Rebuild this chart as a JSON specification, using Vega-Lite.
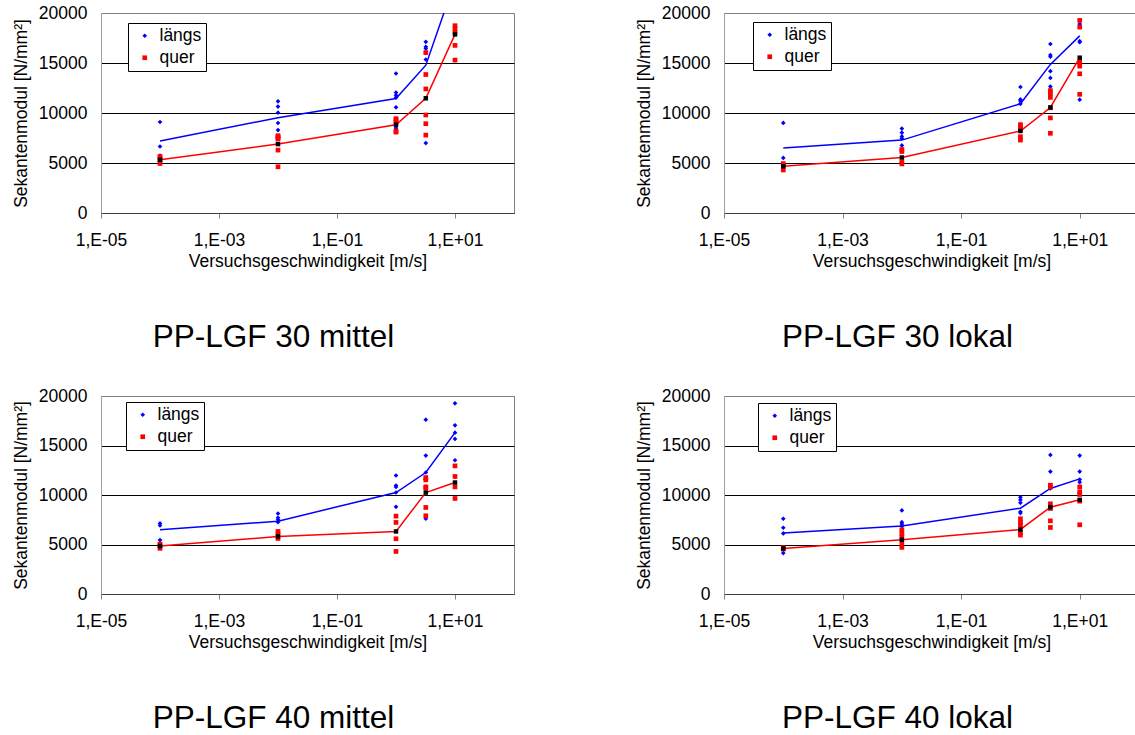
{
  "$schema": "https://vega.github.io/schema/vega-lite/v6.json",
  "autosize": {"type": "pad"},
  "padding": {"left": 11, "top": 3, "right": 0, "bottom": 0},
  "background": "white",
  "datasets": {
    "d": [
      {"p":1,"s":"längs","t":"pt","v":0.0001,"E":9100},
      {"p":1,"s":"längs","t":"pt","v":0.0001,"E":6650},
      {"p":1,"s":"längs","t":"pt","v":0.0001,"E":5750},
      {"p":1,"s":"längs","t":"pt","v":0.01,"E":11170},
      {"p":1,"s":"längs","t":"pt","v":0.01,"E":10640},
      {"p":1,"s":"längs","t":"pt","v":0.01,"E":10030},
      {"p":1,"s":"längs","t":"pt","v":0.01,"E":9000},
      {"p":1,"s":"längs","t":"pt","v":0.01,"E":8290},
      {"p":1,"s":"längs","t":"pt","v":0.01,"E":7700},
      {"p":1,"s":"längs","t":"pt","v":1,"E":13950},
      {"p":1,"s":"längs","t":"pt","v":1,"E":12040},
      {"p":1,"s":"längs","t":"pt","v":1,"E":11770},
      {"p":1,"s":"längs","t":"pt","v":1,"E":11540},
      {"p":1,"s":"längs","t":"pt","v":1,"E":10570},
      {"p":1,"s":"längs","t":"pt","v":1,"E":8500},
      {"p":1,"s":"längs","t":"pt","v":3.2,"E":17120},
      {"p":1,"s":"längs","t":"pt","v":3.2,"E":16620},
      {"p":1,"s":"längs","t":"pt","v":3.2,"E":16450},
      {"p":1,"s":"längs","t":"pt","v":3.2,"E":16000},
      {"p":1,"s":"längs","t":"pt","v":3.2,"E":15350},
      {"p":1,"s":"längs","t":"pt","v":3.2,"E":6990},
      {"p":1,"s":"längs","t":"mean","v":0.0001,"E":7190},
      {"p":1,"s":"längs","t":"mean","v":0.01,"E":9530},
      {"p":1,"s":"längs","t":"mean","v":1,"E":11440},
      {"p":1,"s":"längs","t":"mean","v":3.2,"E":14780},
      {"p":1,"s":"längs","t":"mean","v":10,"E":23200},
      {"p":1,"s":"quer","t":"pt","v":0.0001,"E":5650},
      {"p":1,"s":"quer","t":"pt","v":0.0001,"E":5500},
      {"p":1,"s":"quer","t":"pt","v":0.0001,"E":5250},
      {"p":1,"s":"quer","t":"pt","v":0.0001,"E":4950},
      {"p":1,"s":"quer","t":"pt","v":0.01,"E":7730},
      {"p":1,"s":"quer","t":"pt","v":0.01,"E":7620},
      {"p":1,"s":"quer","t":"pt","v":0.01,"E":7520},
      {"p":1,"s":"quer","t":"pt","v":0.01,"E":7400},
      {"p":1,"s":"quer","t":"pt","v":0.01,"E":6290},
      {"p":1,"s":"quer","t":"pt","v":0.01,"E":4620},
      {"p":1,"s":"quer","t":"pt","v":1,"E":9430},
      {"p":1,"s":"quer","t":"pt","v":1,"E":9300},
      {"p":1,"s":"quer","t":"pt","v":1,"E":9060},
      {"p":1,"s":"quer","t":"pt","v":1,"E":8190},
      {"p":1,"s":"quer","t":"pt","v":1,"E":8090},
      {"p":1,"s":"quer","t":"pt","v":3.2,"E":16050},
      {"p":1,"s":"quer","t":"pt","v":3.2,"E":13850},
      {"p":1,"s":"quer","t":"pt","v":3.2,"E":12410},
      {"p":1,"s":"quer","t":"pt","v":3.2,"E":9800},
      {"p":1,"s":"quer","t":"pt","v":3.2,"E":8930},
      {"p":1,"s":"quer","t":"pt","v":3.2,"E":7790},
      {"p":1,"s":"quer","t":"pt","v":10,"E":18730},
      {"p":1,"s":"quer","t":"pt","v":10,"E":18400},
      {"p":1,"s":"quer","t":"pt","v":10,"E":18060},
      {"p":1,"s":"quer","t":"pt","v":10,"E":16760},
      {"p":1,"s":"quer","t":"pt","v":10,"E":15290},
      {"p":1,"s":"quer","t":"mean","v":0.0001,"E":5320},
      {"p":1,"s":"quer","t":"mean","v":0.01,"E":6890},
      {"p":1,"s":"quer","t":"mean","v":1,"E":8830},
      {"p":1,"s":"quer","t":"mean","v":3.2,"E":11470},
      {"p":1,"s":"quer","t":"mean","v":10,"E":17860},

      {"p":2,"s":"längs","t":"pt","v":0.0001,"E":9010},
      {"p":2,"s":"längs","t":"pt","v":0.0001,"E":5510},
      {"p":2,"s":"längs","t":"pt","v":0.0001,"E":4900},
      {"p":2,"s":"längs","t":"pt","v":0.01,"E":8440},
      {"p":2,"s":"längs","t":"pt","v":0.01,"E":8030},
      {"p":2,"s":"längs","t":"pt","v":0.01,"E":7660},
      {"p":2,"s":"längs","t":"pt","v":0.01,"E":7460},
      {"p":2,"s":"längs","t":"pt","v":0.01,"E":6760},
      {"p":2,"s":"längs","t":"pt","v":1,"E":12600},
      {"p":2,"s":"längs","t":"pt","v":1,"E":11360},
      {"p":2,"s":"längs","t":"pt","v":1,"E":11190},
      {"p":2,"s":"längs","t":"pt","v":1,"E":10920},
      {"p":2,"s":"längs","t":"pt","v":3.2,"E":16900},
      {"p":2,"s":"längs","t":"pt","v":3.2,"E":15800},
      {"p":2,"s":"längs","t":"pt","v":3.2,"E":15630},
      {"p":2,"s":"längs","t":"pt","v":3.2,"E":14180},
      {"p":2,"s":"längs","t":"pt","v":3.2,"E":13510},
      {"p":2,"s":"längs","t":"pt","v":3.2,"E":12640},
      {"p":2,"s":"längs","t":"pt","v":10,"E":18890},
      {"p":2,"s":"längs","t":"pt","v":10,"E":17180},
      {"p":2,"s":"längs","t":"pt","v":10,"E":17080},
      {"p":2,"s":"längs","t":"pt","v":10,"E":11330},
      {"p":2,"s":"längs","t":"mean","v":0.0001,"E":6490},
      {"p":2,"s":"längs","t":"mean","v":0.01,"E":7290},
      {"p":2,"s":"längs","t":"mean","v":1,"E":10920},
      {"p":2,"s":"längs","t":"mean","v":3.2,"E":14860},
      {"p":2,"s":"längs","t":"mean","v":10,"E":17710},
      {"p":2,"s":"quer","t":"pt","v":0.0001,"E":4940},
      {"p":2,"s":"quer","t":"pt","v":0.0001,"E":4750},
      {"p":2,"s":"quer","t":"pt","v":0.0001,"E":4300},
      {"p":2,"s":"quer","t":"pt","v":0.01,"E":6350},
      {"p":2,"s":"quer","t":"pt","v":0.01,"E":6150},
      {"p":2,"s":"quer","t":"pt","v":0.01,"E":5110},
      {"p":2,"s":"quer","t":"pt","v":0.01,"E":4910},
      {"p":2,"s":"quer","t":"pt","v":1,"E":8840},
      {"p":2,"s":"quer","t":"pt","v":1,"E":8640},
      {"p":2,"s":"quer","t":"pt","v":1,"E":8370},
      {"p":2,"s":"quer","t":"pt","v":1,"E":7630},
      {"p":2,"s":"quer","t":"pt","v":1,"E":7290},
      {"p":2,"s":"quer","t":"pt","v":3.2,"E":12240},
      {"p":2,"s":"quer","t":"pt","v":3.2,"E":11930},
      {"p":2,"s":"quer","t":"pt","v":3.2,"E":11560},
      {"p":2,"s":"quer","t":"pt","v":3.2,"E":10520},
      {"p":2,"s":"quer","t":"pt","v":3.2,"E":9510},
      {"p":2,"s":"quer","t":"pt","v":3.2,"E":7970},
      {"p":2,"s":"quer","t":"pt","v":10,"E":19260},
      {"p":2,"s":"quer","t":"pt","v":10,"E":18590},
      {"p":2,"s":"quer","t":"pt","v":10,"E":15090},
      {"p":2,"s":"quer","t":"pt","v":10,"E":14690},
      {"p":2,"s":"quer","t":"pt","v":10,"E":13920},
      {"p":2,"s":"quer","t":"pt","v":10,"E":11870},
      {"p":2,"s":"quer","t":"mean","v":0.0001,"E":4670},
      {"p":2,"s":"quer","t":"mean","v":0.01,"E":5550},
      {"p":2,"s":"quer","t":"mean","v":1,"E":8200},
      {"p":2,"s":"quer","t":"mean","v":3.2,"E":10550},
      {"p":2,"s":"quer","t":"mean","v":10,"E":15530},

      {"p":3,"s":"längs","t":"pt","v":0.0001,"E":7130},
      {"p":3,"s":"längs","t":"pt","v":0.0001,"E":6920},
      {"p":3,"s":"längs","t":"pt","v":0.0001,"E":5450},
      {"p":3,"s":"längs","t":"pt","v":0.01,"E":8130},
      {"p":3,"s":"längs","t":"pt","v":0.01,"E":7700},
      {"p":3,"s":"längs","t":"pt","v":0.01,"E":7500},
      {"p":3,"s":"längs","t":"pt","v":0.01,"E":7260},
      {"p":3,"s":"längs","t":"pt","v":1,"E":11970},
      {"p":3,"s":"längs","t":"pt","v":1,"E":10960},
      {"p":3,"s":"längs","t":"pt","v":1,"E":10820},
      {"p":3,"s":"längs","t":"pt","v":1,"E":10250},
      {"p":3,"s":"längs","t":"pt","v":1,"E":8810},
      {"p":3,"s":"längs","t":"pt","v":3.2,"E":17610},
      {"p":3,"s":"längs","t":"pt","v":3.2,"E":13980},
      {"p":3,"s":"längs","t":"pt","v":3.2,"E":12270},
      {"p":3,"s":"längs","t":"pt","v":3.2,"E":11530},
      {"p":3,"s":"längs","t":"pt","v":3.2,"E":7600},
      {"p":3,"s":"längs","t":"pt","v":10,"E":19260},
      {"p":3,"s":"längs","t":"pt","v":10,"E":17040},
      {"p":3,"s":"längs","t":"pt","v":10,"E":16300},
      {"p":3,"s":"längs","t":"pt","v":10,"E":15660},
      {"p":3,"s":"längs","t":"pt","v":10,"E":13510},
      {"p":3,"s":"längs","t":"mean","v":0.0001,"E":6490},
      {"p":3,"s":"längs","t":"mean","v":0.01,"E":7360},
      {"p":3,"s":"längs","t":"mean","v":1,"E":10250},
      {"p":3,"s":"längs","t":"mean","v":3.2,"E":12270},
      {"p":3,"s":"längs","t":"mean","v":10,"E":16300},
      {"p":3,"s":"quer","t":"pt","v":0.0001,"E":5040},
      {"p":3,"s":"quer","t":"pt","v":0.0001,"E":4880},
      {"p":3,"s":"quer","t":"pt","v":0.0001,"E":4610},
      {"p":3,"s":"quer","t":"pt","v":0.01,"E":6320},
      {"p":3,"s":"quer","t":"pt","v":0.01,"E":6080},
      {"p":3,"s":"quer","t":"pt","v":0.01,"E":5610},
      {"p":3,"s":"quer","t":"pt","v":1,"E":7870},
      {"p":3,"s":"quer","t":"pt","v":1,"E":7230},
      {"p":3,"s":"quer","t":"pt","v":1,"E":5580},
      {"p":3,"s":"quer","t":"pt","v":1,"E":4300},
      {"p":3,"s":"quer","t":"pt","v":3.2,"E":11760},
      {"p":3,"s":"quer","t":"pt","v":3.2,"E":11530},
      {"p":3,"s":"quer","t":"pt","v":3.2,"E":10820},
      {"p":3,"s":"quer","t":"pt","v":3.2,"E":10720},
      {"p":3,"s":"quer","t":"pt","v":3.2,"E":8740},
      {"p":3,"s":"quer","t":"pt","v":3.2,"E":7900},
      {"p":3,"s":"quer","t":"pt","v":10,"E":12940},
      {"p":3,"s":"quer","t":"pt","v":10,"E":11870},
      {"p":3,"s":"quer","t":"pt","v":10,"E":10820},
      {"p":3,"s":"quer","t":"pt","v":10,"E":9650},
      {"p":3,"s":"quer","t":"mean","v":0.0001,"E":4840},
      {"p":3,"s":"quer","t":"mean","v":0.01,"E":5810},
      {"p":3,"s":"quer","t":"mean","v":1,"E":6320},
      {"p":3,"s":"quer","t":"mean","v":3.2,"E":10250},
      {"p":3,"s":"quer","t":"mean","v":10,"E":11260},

      {"p":4,"s":"längs","t":"pt","v":0.0001,"E":7600},
      {"p":4,"s":"längs","t":"pt","v":0.0001,"E":6690},
      {"p":4,"s":"längs","t":"pt","v":0.0001,"E":6120},
      {"p":4,"s":"längs","t":"pt","v":0.0001,"E":4130},
      {"p":4,"s":"längs","t":"pt","v":0.01,"E":8440},
      {"p":4,"s":"längs","t":"pt","v":0.01,"E":7260},
      {"p":4,"s":"längs","t":"pt","v":0.01,"E":7060},
      {"p":4,"s":"längs","t":"pt","v":0.01,"E":6860},
      {"p":4,"s":"längs","t":"pt","v":1,"E":9780},
      {"p":4,"s":"längs","t":"pt","v":1,"E":9510},
      {"p":4,"s":"längs","t":"pt","v":1,"E":9210},
      {"p":4,"s":"längs","t":"pt","v":1,"E":8300},
      {"p":4,"s":"längs","t":"pt","v":1,"E":8170},
      {"p":4,"s":"längs","t":"pt","v":3.2,"E":14050},
      {"p":4,"s":"längs","t":"pt","v":3.2,"E":12370},
      {"p":4,"s":"längs","t":"pt","v":3.2,"E":10660},
      {"p":4,"s":"längs","t":"pt","v":10,"E":13980},
      {"p":4,"s":"längs","t":"pt","v":10,"E":12370},
      {"p":4,"s":"längs","t":"pt","v":10,"E":11560},
      {"p":4,"s":"längs","t":"pt","v":10,"E":11290},
      {"p":4,"s":"längs","t":"mean","v":0.0001,"E":6150},
      {"p":4,"s":"längs","t":"mean","v":0.01,"E":6860},
      {"p":4,"s":"längs","t":"mean","v":1,"E":8670},
      {"p":4,"s":"längs","t":"mean","v":3.2,"E":10660},
      {"p":4,"s":"längs","t":"mean","v":10,"E":11630},
      {"p":4,"s":"quer","t":"pt","v":0.0001,"E":4700},
      {"p":4,"s":"quer","t":"pt","v":0.0001,"E":4540},
      {"p":4,"s":"quer","t":"pt","v":0.01,"E":6490},
      {"p":4,"s":"quer","t":"pt","v":0.01,"E":6120},
      {"p":4,"s":"quer","t":"pt","v":0.01,"E":5780},
      {"p":4,"s":"quer","t":"pt","v":0.01,"E":5040},
      {"p":4,"s":"quer","t":"pt","v":0.01,"E":4710},
      {"p":4,"s":"quer","t":"pt","v":1,"E":7600},
      {"p":4,"s":"quer","t":"pt","v":1,"E":7230},
      {"p":4,"s":"quer","t":"pt","v":1,"E":6960},
      {"p":4,"s":"quer","t":"pt","v":1,"E":6220},
      {"p":4,"s":"quer","t":"pt","v":1,"E":5950},
      {"p":4,"s":"quer","t":"pt","v":3.2,"E":10990},
      {"p":4,"s":"quer","t":"pt","v":3.2,"E":10820},
      {"p":4,"s":"quer","t":"pt","v":3.2,"E":9110},
      {"p":4,"s":"quer","t":"pt","v":3.2,"E":8640},
      {"p":4,"s":"quer","t":"pt","v":3.2,"E":7390},
      {"p":4,"s":"quer","t":"pt","v":3.2,"E":6720},
      {"p":4,"s":"quer","t":"pt","v":10,"E":10820},
      {"p":4,"s":"quer","t":"pt","v":10,"E":10320},
      {"p":4,"s":"quer","t":"pt","v":10,"E":10050},
      {"p":4,"s":"quer","t":"pt","v":10,"E":9380},
      {"p":4,"s":"quer","t":"pt","v":10,"E":6990},
      {"p":4,"s":"quer","t":"mean","v":0.0001,"E":4600},
      {"p":4,"s":"quer","t":"mean","v":0.01,"E":5480},
      {"p":4,"s":"quer","t":"mean","v":1,"E":6520},
      {"p":4,"s":"quer","t":"mean","v":3.2,"E":8770},
      {"p":4,"s":"quer","t":"mean","v":10,"E":9510}
    ]
  },
  "columns": 2,
  "bounds": "flush",
  "spacing": {"row": 183, "column": 210},
  "resolve": {
    "scale": {"color": "independent", "shape": "independent"},
    "legend": {"color": "independent", "shape": "independent"}
  },
  "concat": [
    {
      "width": 413, "height": 200,
      "data": {"name": "d"},
      "transform": [{"filter": "datum.p == 1"}],
      "title": {"text": "PP-LGF 30 mittel"},
      "encoding": {
        "x": {"field": "v", "type": "quantitative", "scale": {"type": "log", "domain": [0.00001, 100], "nice": false}, "title": "Versuchsgeschwindigkeit [m/s]",
              "axis": {"values": [0.00001, 0.001, 0.1, 10], "labelExpr": "datum.value < 0.0001 ? '1,E-05' : datum.value < 0.01 ? '1,E-03' : datum.value < 1 ? '1,E-01' : '1,E+01'"}},
        "y": {"field": "E", "type": "quantitative", "scale": {"domain": [0, 20000], "nice": false}, "title": "Sekantenmodul [N/mm²]",
              "axis": {"values": [0, 5000, 10000, 15000, 20000], "format": "d"}}
      },
      "layer": [
        {"transform": [{"filter": "datum.t == 'mean' && datum.s == 'längs'"}], "mark": {"type": "line", "color": "#0000FF", "strokeWidth": 1.5, "clip": true}},
        {"transform": [{"filter": "datum.t == 'mean' && datum.s == 'quer'"}], "mark": {"type": "line", "color": "#FF0000", "strokeWidth": 1.5, "clip": true}},
        {"transform": [{"filter": "datum.t == 'pt'"}], "mark": {"type": "point", "filled": true, "opacity": 1, "size": 22, "clip": true},
         "encoding": {
           "color": {"field": "s", "type": "nominal", "scale": {"domain": ["längs", "quer"], "range": ["#0000FF", "#FF0000"]}, "legend": {"legendX": 27, "legendY": 10}},
           "shape": {"field": "s", "type": "nominal", "scale": {"domain": ["längs", "quer"], "range": ["diamond", "square"]}, "legend": {"legendX": 27, "legendY": 10}}
         }},
        {"transform": [{"filter": "datum.t == 'mean' && datum.s == 'quer'"}], "mark": {"type": "square", "color": "#000000", "opacity": 1, "size": 20, "clip": true}}
      ]
    },
    {
      "width": 415, "height": 200,
      "data": {"name": "d"},
      "transform": [{"filter": "datum.p == 2"}],
      "title": {"text": "PP-LGF 30 lokal"},
      "encoding": {
        "x": {"field": "v", "type": "quantitative", "scale": {"type": "log", "domain": [0.00001, 100], "nice": false}, "title": "Versuchsgeschwindigkeit [m/s]",
              "axis": {"values": [0.00001, 0.001, 0.1, 10], "labelExpr": "datum.value < 0.0001 ? '1,E-05' : datum.value < 0.01 ? '1,E-03' : datum.value < 1 ? '1,E-01' : '1,E+01'"}},
        "y": {"field": "E", "type": "quantitative", "scale": {"domain": [0, 20000], "nice": false}, "title": "Sekantenmodul [N/mm²]",
              "axis": {"values": [0, 5000, 10000, 15000, 20000], "format": "d"}}
      },
      "layer": [
        {"transform": [{"filter": "datum.t == 'mean' && datum.s == 'längs'"}], "mark": {"type": "line", "color": "#0000FF", "strokeWidth": 1.5, "clip": true}},
        {"transform": [{"filter": "datum.t == 'mean' && datum.s == 'quer'"}], "mark": {"type": "line", "color": "#FF0000", "strokeWidth": 1.5, "clip": true}},
        {"transform": [{"filter": "datum.t == 'pt'"}], "mark": {"type": "point", "filled": true, "opacity": 1, "size": 22, "clip": true},
         "encoding": {
           "color": {"field": "s", "type": "nominal", "scale": {"domain": ["längs", "quer"], "range": ["#0000FF", "#FF0000"]}, "legend": {"legendX": 29, "legendY": 9}},
           "shape": {"field": "s", "type": "nominal", "scale": {"domain": ["längs", "quer"], "range": ["diamond", "square"]}, "legend": {"legendX": 29, "legendY": 9}}
         }},
        {"transform": [{"filter": "datum.t == 'mean' && datum.s == 'quer'"}], "mark": {"type": "square", "color": "#000000", "opacity": 1, "size": 20, "clip": true}}
      ]
    },
    {
      "width": 413, "height": 198,
      "data": {"name": "d"},
      "transform": [{"filter": "datum.p == 3"}],
      "title": {"text": "PP-LGF 40 mittel"},
      "encoding": {
        "x": {"field": "v", "type": "quantitative", "scale": {"type": "log", "domain": [0.00001, 100], "nice": false}, "title": "Versuchsgeschwindigkeit [m/s]",
              "axis": {"values": [0.00001, 0.001, 0.1, 10], "labelExpr": "datum.value < 0.0001 ? '1,E-05' : datum.value < 0.01 ? '1,E-03' : datum.value < 1 ? '1,E-01' : '1,E+01'"}},
        "y": {"field": "E", "type": "quantitative", "scale": {"domain": [0, 20000], "nice": false}, "title": "Sekantenmodul [N/mm²]",
              "axis": {"values": [0, 5000, 10000, 15000, 20000], "format": "d"}}
      },
      "layer": [
        {"transform": [{"filter": "datum.t == 'mean' && datum.s == 'längs'"}], "mark": {"type": "line", "color": "#0000FF", "strokeWidth": 1.5, "clip": true}},
        {"transform": [{"filter": "datum.t == 'mean' && datum.s == 'quer'"}], "mark": {"type": "line", "color": "#FF0000", "strokeWidth": 1.5, "clip": true}},
        {"transform": [{"filter": "datum.t == 'pt'"}], "mark": {"type": "point", "filled": true, "opacity": 1, "size": 22, "clip": true},
         "encoding": {
           "color": {"field": "s", "type": "nominal", "scale": {"domain": ["längs", "quer"], "range": ["#0000FF", "#FF0000"]}, "legend": {"legendX": 25, "legendY": 6}},
           "shape": {"field": "s", "type": "nominal", "scale": {"domain": ["längs", "quer"], "range": ["diamond", "square"]}, "legend": {"legendX": 25, "legendY": 6}}
         }},
        {"transform": [{"filter": "datum.t == 'mean' && datum.s == 'quer'"}], "mark": {"type": "square", "color": "#000000", "opacity": 1, "size": 20, "clip": true}}
      ]
    },
    {
      "width": 415, "height": 198,
      "data": {"name": "d"},
      "transform": [{"filter": "datum.p == 4"}],
      "title": {"text": "PP-LGF 40 lokal"},
      "encoding": {
        "x": {"field": "v", "type": "quantitative", "scale": {"type": "log", "domain": [0.00001, 100], "nice": false}, "title": "Versuchsgeschwindigkeit [m/s]",
              "axis": {"values": [0.00001, 0.001, 0.1, 10], "labelExpr": "datum.value < 0.0001 ? '1,E-05' : datum.value < 0.01 ? '1,E-03' : datum.value < 1 ? '1,E-01' : '1,E+01'"}},
        "y": {"field": "E", "type": "quantitative", "scale": {"domain": [0, 20000], "nice": false}, "title": "Sekantenmodul [N/mm²]",
              "axis": {"values": [0, 5000, 10000, 15000, 20000], "format": "d"}}
      },
      "layer": [
        {"transform": [{"filter": "datum.t == 'mean' && datum.s == 'längs'"}], "mark": {"type": "line", "color": "#0000FF", "strokeWidth": 1.5, "clip": true}},
        {"transform": [{"filter": "datum.t == 'mean' && datum.s == 'quer'"}], "mark": {"type": "line", "color": "#FF0000", "strokeWidth": 1.5, "clip": true}},
        {"transform": [{"filter": "datum.t == 'pt'"}], "mark": {"type": "point", "filled": true, "opacity": 1, "size": 22, "clip": true},
         "encoding": {
           "color": {"field": "s", "type": "nominal", "scale": {"domain": ["längs", "quer"], "range": ["#0000FF", "#FF0000"]}, "legend": {"legendX": 34, "legendY": 7}},
           "shape": {"field": "s", "type": "nominal", "scale": {"domain": ["längs", "quer"], "range": ["diamond", "square"]}, "legend": {"legendX": 34, "legendY": 7}}
         }},
        {"transform": [{"filter": "datum.t == 'mean' && datum.s == 'quer'"}], "mark": {"type": "square", "color": "#000000", "opacity": 1, "size": 20, "clip": true}}
      ]
    }
  ],
  "config": {
    "font": "Liberation Sans",
    "view": {"stroke": "#808080", "strokeWidth": 1},
    "title": {"orient": "bottom", "fontSize": 31.5, "fontWeight": "normal", "font": "Liberation Sans", "color": "#000000", "offset": 52, "anchor": "middle", "dx": -34},
    "axis": {"labelFont": "Liberation Sans", "labelFontSize": 17.5, "labelColor": "#000000", "titleFont": "Liberation Sans", "titleFontSize": 17.5, "titleFontWeight": "normal", "titleColor": "#000000", "zindex": 1},
    "axisX": {
      "grid": false, "tickSize": 5, "tickColor": "#808080", "domainColor": "#404040",
      "labelPadding": 13, "titlePadding": 4, "labelFlush": false, "labelOverlap": false
    },
    "axisY": {
      "grid": true, "gridColor": {"condition": {"test": "datum.value >= 20000", "value": "#808080"}, "value": "#000000"},
      "gridWidth": 1, "ticks": false, "domainColor": "#a0a0a0", "labelPadding": 14, "titlePadding": 8,
      "labelFlush": false, "labelOverlap": false
    },
    "legend": {
      "orient": "none", "title": null, "strokeColor": "#000000", "fillColor": "#ffffff", "padding": 4,
      "labelFont": "Liberation Sans", "labelFontSize": 17.5, "labelColor": "#000000",
      "symbolSize": 22, "labelOffset": 6, "rowPadding": 3, "symbolOffset": 4, "cornerRadius": 0
    }
  }
}
